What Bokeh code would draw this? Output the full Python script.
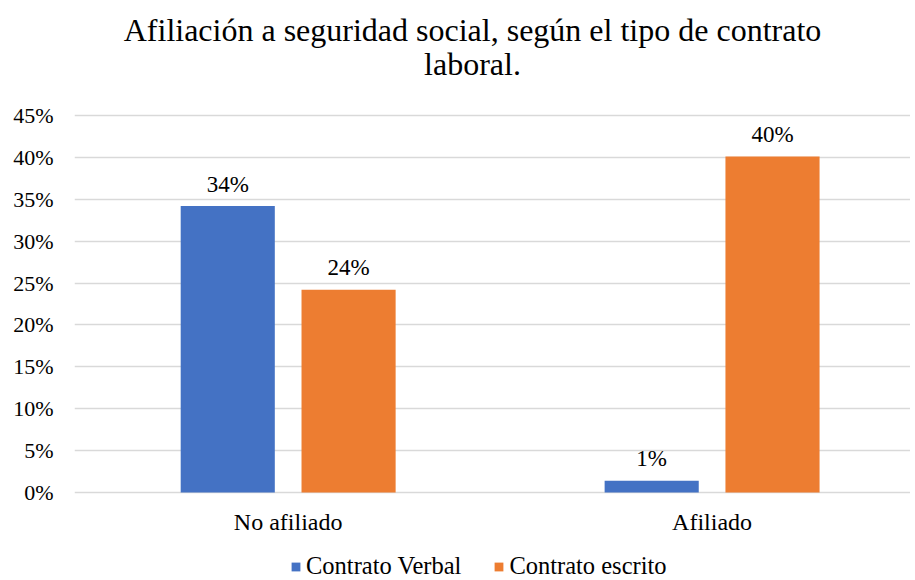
from bokeh.plotting import figure
from bokeh.models import (ColumnDataSource, Legend, LegendItem, Label, FixedTicker,
                          NumeralTickFormatter, Range1d)
from bokeh.core.properties import value
from bokeh.embed import file_html
from bokeh.resources import INLINE

categories = ["No afiliado", "Afiliado"]
series_names = ["Contrato Verbal", "Contrato escrito"]
verbal = [0.342, 0.014]
escrito = [0.242, 0.401]
y_ticks = [0, 0.05, 0.10, 0.15, 0.20, 0.25, 0.30, 0.35, 0.40, 0.45]
colors = ["#4472C4", "#ED7D31"]
title_lines = ["Afiliación a seguridad social, según el tipo de contrato", "laboral."]

FONT = "Liberation Serif"
cat_x = [0.5 + i for i in range(len(categories))]
offset = 0.1425
bar_w = 0.222

# the frame spans the whole figure; the value axis (0-45%) occupies its middle part
p = figure(width=910, height=580, output_backend="svg", toolbar_location=None,
           x_range=Range1d(-0.004, 1.968), y_range=Range1d(-0.105, 0.5873),
           x_axis_location=None,
           min_border_left=74, min_border_right=0, min_border_top=0, min_border_bottom=0)
p.outline_line_color = None
p.background_fill_color = "white"
p.border_fill_color = "white"

renderers = []
for vals, off, col, name in [(verbal, -offset, colors[0], series_names[0]),
                             (escrito, offset, colors[1], series_names[1])]:
    src = ColumnDataSource(dict(x=[c + off for c in cat_x], top=vals,
                                label=[f"{round(v * 100)}%" for v in vals]))
    r = p.vbar(x="x", top="top", width=bar_w, source=src, fill_color=col, line_color=None)
    renderers.append(r)
    p.text(x="x", y="top", text="label", source=src, text_align="center",
           text_baseline="alphabetic", y_offset=-22, text_font=value(FONT),
           text_font_size="23px", text_color="#000000")

# category labels under the value axis
cat_src = ColumnDataSource(dict(x=cat_x, y=[0] * len(cat_x), label=categories))
p.text(x="x", y="y", text="label", source=cat_src, text_align="center",
       text_baseline="alphabetic", y_offset=29, text_font=value(FONT),
       text_font_size="24px", text_color="#000000")

p.xgrid.grid_line_color = None

p.yaxis.ticker = FixedTicker(ticks=y_ticks)
p.yaxis.formatter = NumeralTickFormatter(format="0%")
p.yaxis.axis_line_color = None
p.yaxis.major_tick_line_color = None
p.yaxis.minor_tick_line_color = None
p.yaxis.major_label_text_font = FONT
p.yaxis.major_label_text_font_size = "22px"
p.yaxis.major_label_text_color = "#000000"
p.yaxis.major_label_standoff = 15
p.ygrid.grid_line_color = "#D9D9D9"
p.ygrid.grid_line_width = 1.5

legend = Legend(items=[LegendItem(label=n, renderers=[r]) for n, r in zip(series_names, renderers)],
                orientation="horizontal", location=(216, 0),
                label_text_font=FONT, label_text_font_size="24.5px", label_text_color="#000000",
                glyph_width=11, glyph_height=11, label_standoff=5, spacing=32,
                border_line_color=None, background_fill_alpha=0, padding=0, margin=0)
p.add_layout(legend, "center")

for txt, yy in zip(title_lines, [551, 517]):
    p.add_layout(Label(x=398, y=yy, x_units="screen", y_units="screen", text=txt,
                       text_font=FONT, text_font_size="32px", text_color="#000000",
                       text_align="center", text_baseline="alphabetic"))

open("out.html", "w").write(file_html(p, INLINE))
